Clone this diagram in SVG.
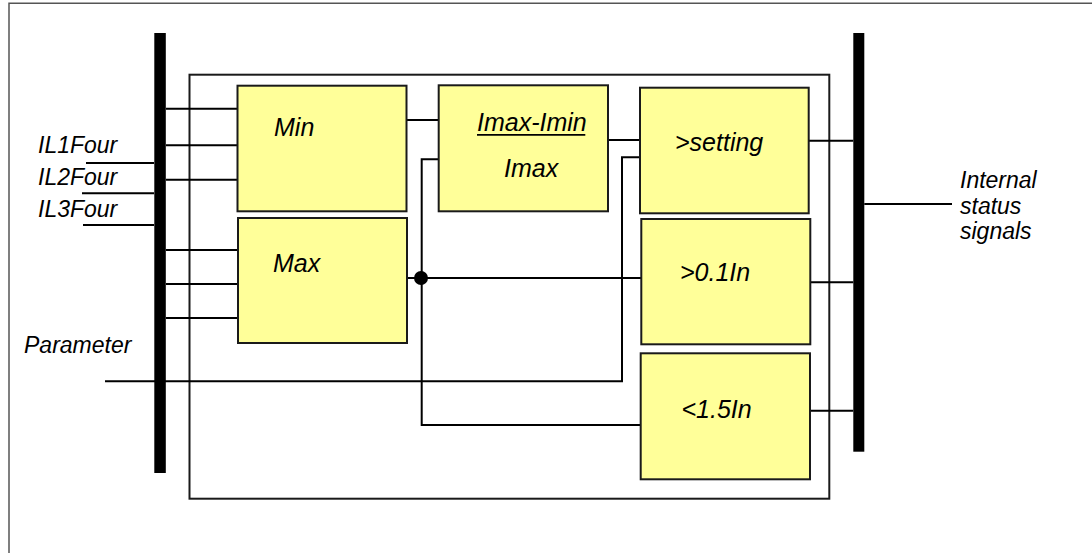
<svg xmlns="http://www.w3.org/2000/svg" width="1092" height="553" viewBox="0 0 1092 553">
<style>
.box{fill:#FFFF99;stroke:#1a1a1a;stroke-width:2}
.bus{fill:#000}
.w{stroke:#000;stroke-width:2;fill:none}
.frame{stroke:#555;stroke-width:1.5;fill:none}
.inner{stroke:#1a1a1a;stroke-width:2;fill:none}
.lbl{font-family:"Liberation Sans",Arial,sans-serif;font-style:italic;font-size:23px;fill:#000}
.blbl{font-family:"Liberation Sans",Arial,sans-serif;font-style:italic;font-size:25px;fill:#000}
</style>
<rect width="1092" height="553" fill="#fff"/>
<path class="frame" d="M9,553 V3.3 H1092"/>
<rect class="inner" x="189.5" y="74.7" width="639.8" height="424"/>
<g id="connectors">
  <path class="w" d="M166,108.7 H237.5 M166,145.3 H237.5 M166,179.7 H237.5"/>
  <path class="w" d="M166,250 H238 M166,284 H238 M166,318 H238"/>
  <path class="w" d="M86,163 H154 M82,193.3 H154 M83,225 H154"/>
  <path class="w" d="M105,381.3 H622 V157.3 H640"/>
  <path class="w" d="M406.5,120 H438.7"/>
  <path class="w" d="M407,278 H641.3"/>
  <path class="w" d="M438.7,159.3 H421.7 V425 H640.7"/>
  <circle cx="421" cy="278" r="7" fill="#000"/>
  <path class="w" d="M608,140 H640"/>
  <path class="w" d="M808.7,140.7 H853.3 M810.3,282.3 H853.3 M810,410.7 H853.3"/>
  <path class="w" d="M864.3,204 H952"/>
</g>
<g id="bus-in"><rect class="bus" x="154.3" y="33" width="11.5" height="440"/></g>
<g id="bus-out"><rect class="bus" x="853.3" y="33" width="11" height="418.7"/></g>
<g id="min"><rect class="box" x="237.5" y="85.7" width="169" height="125.6"/><text class="blbl" x="274" y="136">Min</text></g>
<g id="max"><rect class="box" x="238" y="218" width="169" height="125"/><text class="blbl" x="273" y="272.3">Max</text></g>
<g id="ratio"><rect class="box" x="438.7" y="85.3" width="169.3" height="126"/><text class="blbl" x="477" y="130.7">Imax-Imin</text><line x1="477" y1="134.8" x2="585.3" y2="134.8" stroke="#000" stroke-width="1.8"/><text class="blbl" x="504" y="177.3">Imax</text></g>
<g id="setting"><rect class="box" x="640" y="87.7" width="168.7" height="125.6"/><text class="blbl" x="675" y="151">&gt;setting</text></g>
<g id="gt01"><rect class="box" x="641.3" y="219" width="169" height="125.3"/><text class="blbl" x="680" y="280.7">&gt;0.1In</text></g>
<g id="lt15"><rect class="box" x="640.7" y="353.3" width="169.3" height="126"/><text class="blbl" x="681.5" y="418.3">&lt;1.5In</text></g>
<g id="labels">
  <text class="lbl" x="38" y="152.5">IL1Four</text>
  <text class="lbl" x="38" y="185">IL2Four</text>
  <text class="lbl" x="38" y="216.7">IL3Four</text>
  <text class="lbl" x="24" y="352.7">Parameter</text>
  <text class="lbl" x="960" y="188.3">Internal</text>
  <text class="lbl" x="960" y="213.5">status</text>
  <text class="lbl" x="960" y="239">signals</text>
</g>
</svg>
